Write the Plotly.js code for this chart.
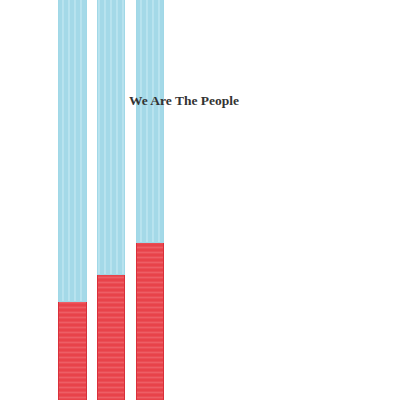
<!DOCTYPE html>
<html>
<head>
<meta charset="utf-8">
<script src="https://cdn.plot.ly/plotly-3.0.1.min.js"></script>
<style>html,body{margin:0;padding:0;background:#fff;}#chart{width:400px;height:400px;}</style>
</head>
<body>
<div id="chart"></div>
<script>
const categories = ["A", "B", "C"];
const redValues = [24.6, 31.5, 39.5];
const blueValues = [80, 75, 70];
const titleText = "We Are The People";

const traces = [
  {
    type: "bar",
    x: categories,
    y: redValues,
    width: 0.7,
    marker: {
      color: "#ea4a50",
      line: {color: "#d9303a", width: 1},
      pattern: {shape: "-", fgcolor: "#f06a70", bgcolor: "#e8434a", size: 5, solidity: 0.35, fgopacity: 0.7}
    },
    hoverinfo: "skip"
  },
  {
    type: "bar",
    x: categories,
    y: blueValues,
    width: 0.7,
    marker: {
      color: "#a6dbe9",
      line: {color: "#a0d8e7", width: 1},
      pattern: {shape: "|", fgcolor: "#c3e8f2", bgcolor: "#a4d9e8", size: 6, solidity: 0.3, fgopacity: 0.7}
    },
    hoverinfo: "skip"
  }
];

const layout = {
  width: 400,
  height: 400,
  barmode: "stack",
  showlegend: false,
  paper_bgcolor: "#ffffff",
  plot_bgcolor: "#ffffff",
  margin: {l: 0, r: 0, t: 0, b: 0},
  title: {
    text: "<b>" + titleText + "</b>",
    font: {family: "Liberation Serif, serif", size: 13.5, color: "#333333"},
    x: 0.46, xanchor: "center", xref: "container",
    y: 0.75, yanchor: "middle", yref: "container"
  },
  xaxis: {
    type: "category",
    range: [-1.87, 8.45],
    visible: false,
    showgrid: false, zeroline: false
  },
  yaxis: {
    range: [0, 100],
    visible: false,
    showgrid: false, zeroline: false
  }
};

Plotly.newPlot("chart", traces, layout, {staticPlot: true});
</script>
</body>
</html>
